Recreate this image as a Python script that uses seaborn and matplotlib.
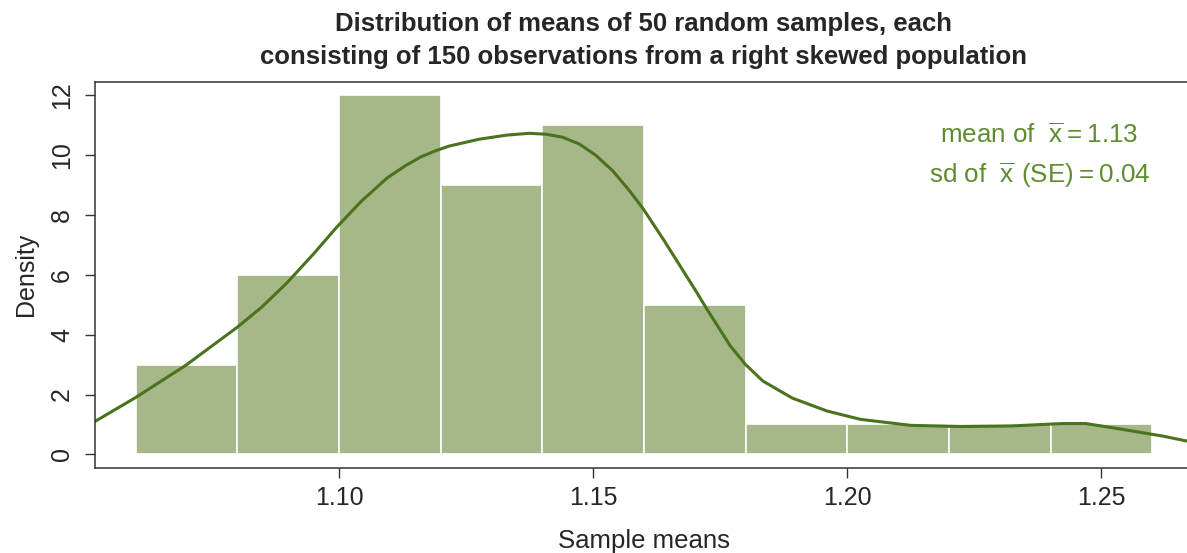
import numpy as np
import pandas as pd
import matplotlib
matplotlib.use("Agg")
import matplotlib.pyplot as plt
import seaborn as sns

# histogram of the 50 sample means (bin width 0.02)
bin_edges = [1.06, 1.08, 1.10, 1.12, 1.14, 1.16, 1.18, 1.20, 1.22, 1.24, 1.26]
bin_counts = [3, 6, 12, 9, 11, 5, 1, 1, 1, 1]

# density curve
kde_x = [1.0521, 1.0600, 1.0699, 1.0800, 1.0848, 1.0897, 1.0950, 1.0996, 1.1044,
         1.1095, 1.1130, 1.1161, 1.1189, 1.1216, 1.1275, 1.1330, 1.1374, 1.1407,
         1.1440, 1.1473, 1.1505, 1.1539, 1.1572, 1.1598, 1.1638, 1.1671, 1.1704,
         1.1724, 1.1770, 1.1800, 1.1834, 1.1892, 1.1960, 1.2026, 1.2125, 1.2224,
         1.2323, 1.2422, 1.2469, 1.2522, 1.2621, 1.2701]
kde_y = [1.11, 1.90, 2.98, 4.25, 4.92, 5.72, 6.70, 7.60, 8.46,
         9.24, 9.64, 9.94, 10.14, 10.30, 10.53, 10.67, 10.73, 10.70,
         10.60, 10.37, 10.00, 9.47, 8.80, 8.22, 7.19, 6.30, 5.41,
         4.85, 3.62, 3.00, 2.45, 1.88, 1.45, 1.17, 0.97, 0.93,
         0.95, 1.03, 1.03, 0.89, 0.61, 0.33]

x_ticks = [1.10, 1.15, 1.20, 1.25]
y_ticks = [0, 2, 4, 6, 8, 10, 12]

mean_xbar = 1.13
se_xbar = 0.04

BAR_COLOR = "#a6b88a"
LINE_COLOR = "#4b721c"
TEXT_COLOR = "#5e8c2e"


def main(out_path="out.png"):
    sns.set_style("white")
    plt.rcParams["font.family"] = ["Liberation Sans", "DejaVu Sans"]
    plt.rcParams["mathtext.fontset"] = "custom"
    plt.rcParams["mathtext.rm"] = "Liberation Sans"

    mids = [(a + b) / 2 for a, b in zip(bin_edges[:-1], bin_edges[1:])]
    df = pd.DataFrame({"mean": mids, "n": bin_counts})
    curve = pd.DataFrame({"x": kde_x, "density": kde_y})

    fig = plt.figure(figsize=(11.87, 5.53), dpi=100)
    ax = fig.add_axes([0.080, 0.154, 0.925, 0.698])

    sns.histplot(data=df, x="mean", weights="n", bins=bin_edges, stat="density",
                 color=BAR_COLOR, alpha=1.0, edgecolor="white", linewidth=1.2, ax=ax)
    sns.lineplot(data=curve, x="x", y="density", color=LINE_COLOR, linewidth=2.2,
                 sort=True, ax=ax)
    ax.lines[-1].set_solid_joinstyle("round")

    ax.set_xlim(1.052, 1.268)
    ax.set_ylim(-0.45, 12.45)
    ax.set_xticks(x_ticks)
    ax.set_xticklabels([f"{t:.2f}" for t in x_ticks])
    ax.set_yticks(y_ticks)
    ax.set_yticklabels([str(t) for t in y_ticks], rotation=90, va="center")
    ax.tick_params(axis="both", direction="out", length=7, width=1, labelsize=18,
                   color="#333333", pad=6, left=True, bottom=True)
    ax.tick_params(axis="y", pad=8)
    for s in ax.spines.values():
        s.set_color("#333333")
        s.set_linewidth(1.1)

    ax.set_xlabel("Sample means", fontsize=18.5, labelpad=14)
    ax.set_ylabel("Density", fontsize=18, labelpad=9)
    ax.set_title("Distribution of means of 50 random samples, each\n"
                 "consisting of 150 observations from a right skewed population",
                 fontsize=18.5, fontweight="bold", linespacing=1.45, pad=13)

    ax.text(1.2378, 10.67, r"mean of  $\overline{\mathrm{x}} = %.2f$" % mean_xbar,
            color=TEXT_COLOR, fontsize=18.7, ha="center", va="center")
    ax.text(1.2378, 9.33, r"sd of  $\overline{\mathrm{x}}\ \mathrm{(SE)} = %.2f$" % se_xbar,
            color=TEXT_COLOR, fontsize=18.7, ha="center", va="center")

    fig.savefig(out_path, dpi=100)
    plt.close(fig)


if __name__ == "__main__":
    main()
